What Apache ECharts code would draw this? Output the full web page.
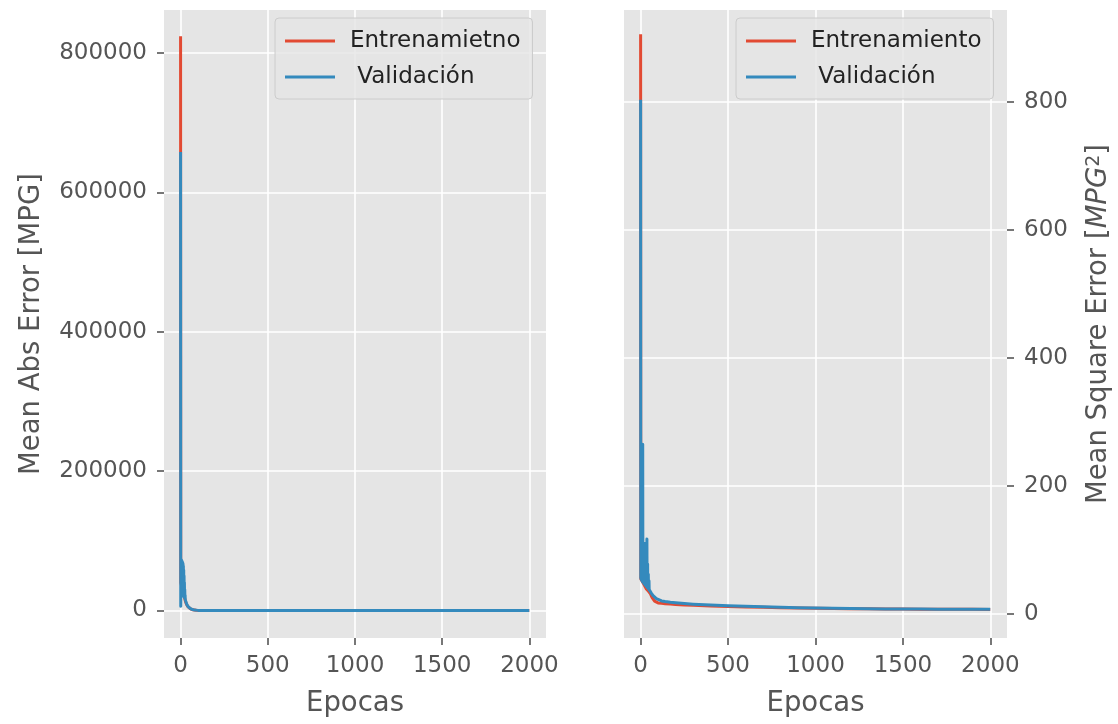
<!DOCTYPE html>
<html>
<head>
<meta charset="utf-8">
<script src="https://cdn.jsdelivr.net/npm/echarts@6/dist/echarts.min.js"></script>
<style>
  html, body { margin: 0; padding: 0; background: #ffffff; }
  #chart { width: 1118px; height: 724px; }
</style>
</head>
<body>
<div id="chart"></div>
<script>
// Training history: every epoch for the first 50, then sparser samples
const epochs = [0, 1, 2, 3, 4, 5, 6, 7, 8, 9, 10, 11, 12, 13, 14, 15, 16, 17, 18, 19,
  20, 21, 22, 23, 24, 25, 26, 27, 28, 29, 30, 31, 32, 33, 34, 35, 36, 37, 38, 39,
  40, 41, 42, 43, 44, 45, 46, 47, 48, 49, 50,
  55, 60, 65, 70, 80, 90, 100, 120, 140, 170, 200, 250, 300, 400, 500, 600, 700, 800,
  900, 1000, 1100, 1200, 1300, 1400, 1500, 1600, 1700, 1800, 1900, 1999];

// Mean absolute error [MPG]
const maeTrain = [824400, 40000, 39000, 38000, 37000, 36000, 35000, 34000, 33000, 32000,
  31000, 30000, 29000, 28000, 27000, 26000, 25000, 24000, 23000, 22000,
  21000, 20000, 19000, 18000, 17000, 16000, 15000, 14000, 13000, 12500,
  12000, 11200, 10500, 9800, 9100, 8500, 8000, 7500, 7000, 6600,
  6200, 5800, 5400, 5100, 4800, 4500, 4200, 4000, 3800, 3600, 3400,
  2700, 2000, 1400, 1000, 500, 250, 120, 40, 15, 7, 5, 4, 3.6, 3.2, 3, 2.8, 2.7, 2.6,
  2.5, 2.4, 2.4, 2.3, 2.3, 2.2, 2.2, 2.2, 2.1, 2.1, 2.1, 2.1];
const maeVal = [658200, 6000, 74000, 28000, 73000, 25000, 72000, 23000, 71000, 22000,
  70000, 22000, 69000, 21000, 67000, 21000, 64000, 20000, 58000, 20000,
  50000, 19000, 40000, 18000, 30000, 17000, 22000, 15500, 16000, 14000,
  13000, 12000, 11200, 10500, 9800, 9200, 8600, 8100, 7600, 7100,
  6700, 6300, 5900, 5500, 5200, 4900, 4600, 4300, 4100, 3900, 3700,
  3000, 2200, 1600, 1100, 600, 300, 150, 50, 20, 9, 6, 4.5, 4, 3.5, 3.2, 3, 2.9, 2.8,
  2.7, 2.6, 2.6, 2.5, 2.5, 2.4, 2.4, 2.4, 2.3, 2.3, 2.3, 2.3];

// Mean square error [MPG^2]
const mseTrain = [905, 55, 54.5, 54, 53.5, 53, 52.5, 52, 51.5, 51,
  50.5, 50, 49.5, 49, 48.5, 48, 47.5, 47, 46.5, 46,
  45.5, 45, 44.5, 44, 43.5, 43, 42.5, 42, 41.5, 41,
  40.5, 40, 39.5, 39, 38.5, 38, 37.5, 37, 36.8, 36.6,
  36.4, 36.2, 36, 35.8, 35.6, 35.4, 35.2, 35, 34.8, 34.6, 34.4,
  32, 29, 26, 23.5, 20, 18.2, 17.3, 16.6, 16, 15.4, 14.9, 14.1, 13.5, 12.4, 11.6, 11,
  10.4, 9.9, 9.4, 9, 8.6, 8.3, 8, 7.8, 7.6, 7.5, 7.4, 7.3, 7.2, 7.1];
const mseVal = [803, 56, 98, 54, 85, 53, 105, 52, 70, 51,
  92, 50, 265, 50, 88, 49, 100, 48, 75, 48,
  95, 47, 66, 46, 110, 46, 80, 45, 62, 44,
  90, 44, 70, 43, 105, 42, 117, 42, 60, 41,
  78, 40, 55, 40, 62, 39, 48, 38, 52, 38, 40,
  36, 33, 31, 29, 26, 24, 22, 20.3, 19.4, 18.3, 17.4, 16.2, 15.3, 13.9, 12.9, 12,
  11.2, 10.5, 9.8, 9.2, 8.8, 8.4, 8.1, 7.9, 7.7, 7.6, 7.5, 7.4, 7.3, 7.3];

const xTicks = [0, 500, 1000, 1500, 2000];
const maeTicks = [0, 200000, 400000, 600000, 800000];
const mseTicks = [0, 200, 400, 600, 800];

const trainNameMae = 'Entrenamietno';
const trainNameMse = 'Entrenamiento';
const valName = ' Validación';

const RED = '#E24A33';
const BLUE = '#348ABD';
const INK = '#555555';
const FONT = 'DejaVu Sans';

const pairs = (xs, ys) => xs.map((x, i) => [x, ys[i]]);

// Axis lines stay invisible; ticks point outwards from the panel edge
const hiddenLine = { show: false, onZero: false };

function xAxisFor(gridIndex) {
  return {
    type: 'value', gridIndex, min: -95, max: 2095,
    name: 'Epocas', nameLocation: 'middle', nameGap: 52,
    nameTextStyle: { color: INK, fontSize: 27.5, fontFamily: FONT },
    axisLine: hiddenLine,
    axisTick: { show: true, inside: false, length: 7, customValues: xTicks, lineStyle: { color: INK, width: 1.6 } },
    axisLabel: { customValues: xTicks, color: INK, fontSize: 23, fontFamily: FONT, margin: 17,
      formatter: v => String(v) },
    splitLine: { show: true, lineStyle: { color: '#ffffff', width: 1.6 } }
  };
}

function yAxisBase(gridIndex, min, max, ticks) {
  return {
    type: 'value', gridIndex, min, max,
    nameLocation: 'middle', nameRotate: 90,
    axisLine: hiddenLine,
    axisTick: { show: true, inside: false, length: 7, customValues: ticks, lineStyle: { color: INK, width: 1.6 } },
    axisLabel: { customValues: ticks, color: INK, fontSize: 23, fontFamily: FONT, margin: 17,
      formatter: v => String(v) },
    splitLine: { show: true, lineStyle: { color: '#ffffff', width: 1.6 } }
  };
}

function legendFor(left, trainName) {
  return {
    left, top: 18, orient: 'vertical', icon: 'rect', itemWidth: 50, itemHeight: 3,
    itemGap: 10, padding: [10, 12, 9, 10], selectedMode: false,
    data: [trainName, valName],
    backgroundColor: 'rgba(229,229,229,0.8)', borderColor: '#cccccc', borderWidth: 1, borderRadius: 4,
    textStyle: { color: '#222222', fontSize: 23, fontFamily: FONT, lineHeight: 26, padding: [0, 0, 0, 10] }
  };
}

function lineSeries(name, xi, yi, data, color) {
  return {
    name, type: 'line', xAxisIndex: xi, yAxisIndex: yi, data,
    showSymbol: false, symbol: 'none', animation: false, clip: true,
    itemStyle: { color },
    lineStyle: { color, width: 3, join: 'round' }
  };
}

const yMae = Object.assign(yAxisBase(0, -39500, 862000, maeTicks), {
  name: 'Mean Abs Error [MPG]', nameGap: 118,
  nameTextStyle: { color: INK, fontSize: 27.5, fontFamily: FONT }
});

const yMse = Object.assign(yAxisBase(1, -37.5, 943, mseTicks), {
  position: 'right',
  name: '{t|Mean Square Error [}{i|MPG}{s|2}{t|]}', nameGap: 78,
  nameTextStyle: {
    color: INK, fontSize: 27.5, fontFamily: FONT,
    rich: {
      t: { color: INK, fontSize: 27.5, fontFamily: FONT },
      i: { color: INK, fontSize: 27.5, fontFamily: FONT, fontStyle: 'italic' },
      s: { color: INK, fontSize: 19, fontFamily: FONT, verticalAlign: 'top' }
    }
  }
});

const chart = echarts.init(document.getElementById('chart'), null, { renderer: 'canvas' });
chart.setOption({
  backgroundColor: '#ffffff',
  animation: false,
  textStyle: { fontFamily: FONT },
  grid: [
    { left: 164, top: 10, width: 382, height: 628, show: true, backgroundColor: '#E5E5E5', borderWidth: 0 },
    { left: 624, top: 10, width: 383, height: 628, show: true, backgroundColor: '#E5E5E5', borderWidth: 0 }
  ],
  legend: [legendFor(275, trainNameMae), legendFor(736, trainNameMse)],
  xAxis: [xAxisFor(0), xAxisFor(1)],
  yAxis: [yMae, yMse],
  series: [
    lineSeries(trainNameMae, 0, 0, pairs(epochs, maeTrain), RED),
    lineSeries(valName, 0, 0, pairs(epochs, maeVal), BLUE),
    lineSeries(trainNameMse, 1, 1, pairs(epochs, mseTrain), RED),
    lineSeries(valName, 1, 1, pairs(epochs, mseVal), BLUE)
  ]
});
</script>
</body>
</html>
